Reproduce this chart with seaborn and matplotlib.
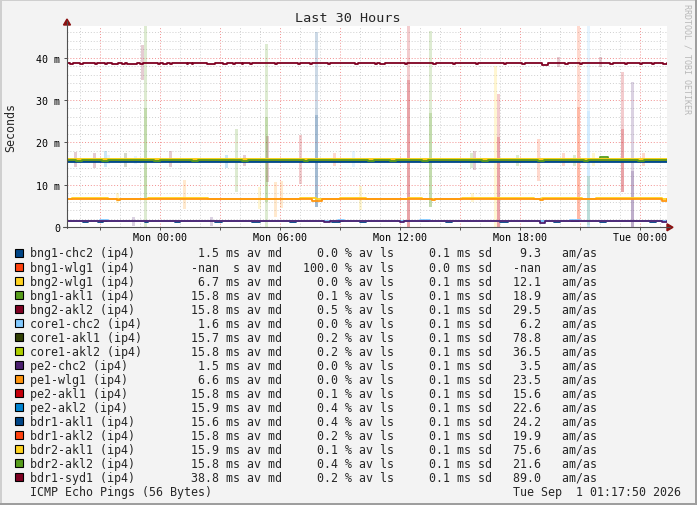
import numpy as np
import matplotlib
matplotlib.use("Agg")
import matplotlib.pyplot as plt
from matplotlib.patches import Rectangle, Polygon
from matplotlib.lines import Line2D
from matplotlib.ticker import MultipleLocator, FuncFormatter
import seaborn as sns

# ── data ───────────────────────────────────────────────────────────────────
HOSTS = ["bng1-chc2", "bng1-wlg1", "bng2-wlg1", "bng1-akl1", "bng2-akl2",
         "core1-chc2", "core1-akl1", "core1-akl2", "pe2-chc2", "pe1-wlg1",
         "pe2-akl1", "pe2-akl2", "bdr1-akl1", "bdr1-akl2", "bdr2-akl1",
         "bdr2-akl2", "bdr1-syd1"]
COLORS = ["#004586", "#ff420e", "#ffd320", "#579d1c", "#7e0021",
          "#83caff", "#314004", "#aecf00", "#4b1f6f", "#ff950e",
          "#c5000b", "#0084d1", "#004586", "#ff420e", "#ffd320",
          "#579d1c", "#7e0021"]
MED_TXT = ["1.5", "-nan", "6.7", "15.8", "15.8", "1.6", "15.7", "15.8", "1.5",
           "6.6", "15.8", "15.9", "15.6", "15.8", "15.9", "15.8", "38.8"]
LOSS_TXT = ["0.0", "100.0", "0.0", "0.1", "0.5", "0.0", "0.2", "0.2", "0.0",
            "0.0", "0.1", "0.4", "0.4", "0.2", "0.1", "0.4", "0.2"]
SD_TXT = ["0.1", "0.0", "0.1", "0.1", "0.1", "0.1", "0.1", "0.1", "0.1",
          "0.1", "0.1", "0.1", "0.1", "0.1", "0.1", "0.1", "0.1"]
AMAS_TXT = ["9.3", "-nan", "12.1", "18.9", "29.5", "6.2", "78.8", "36.5", "3.5",
            "23.5", "15.6", "22.6", "24.2", "19.9", "75.6", "21.6", "89.0"]

# median line level per host (ms); None = no data (100% loss)
LINE_LEVEL = [1.5, None, 6.7, 15.9, 15.75, 1.6, 15.75, 16.0, 1.5,
              6.6, 15.8, 15.6, 15.45, 15.8, 16.05, 15.85, 38.8]

# deviations from the level: (from hour, to hour, ms), hours relative to Mon 00:00
BNG1_CHC2_DEV = [(-3.85, -3.6, 1.25), (-3.1, -2.85, 1.25), (-0.77, -0.62, 1.25),
                 (0.72, 0.98, 1.25), (2.72, 3.08, 1.25), (4.6, 5.0, 1.25),
                 (6.5, 6.8, 1.25), (8.6, 9.0, 1.25), (10.0, 10.3, 1.25),
                 (14.3, 14.6, 1.25), (17.0, 17.4, 1.25), (19.7, 20.0, 1.25),
                 (22.0, 22.3, 1.25), (24.5, 24.8, 1.25)]
BNG2_WLG1_DEV = [(-4.4, -2.6, 6.95), (-0.6, 2.4, 6.95), (7.0, 7.8, 6.95),
                 (9.0, 10.3, 6.95), (12.4, 13.1, 6.95), (15.1, 18.7, 6.95),
                 (19.1, 21.1, 6.95), (21.8, 25.1, 6.95)]
BNG1_AKL1_DEV = [(22.0, 22.4, 16.6)]
BDR2_AKL2_DEV = [(-4.2, -3.9, 15.6), (-2.9, -2.6, 15.6), (-0.3, 0.0, 15.6),
                 (1.6, 1.9, 15.6), (4.1, 4.4, 15.6), (7.2, 7.4, 15.6),
                 (10.4, 10.7, 15.6), (11.5, 11.8, 15.6), (13.1, 13.4, 15.6),
                 (16.1, 16.4, 15.6), (18.9, 19.2, 15.6), (21.2, 21.4, 15.6),
                 (23.9, 24.2, 15.6)]
CORE1_CHC2_DEV = [(-3.0, -2.6, 1.8), (8.9, 9.2, 1.8), (13.0, 13.5, 1.8), (20.5, 21.0, 1.8)]
PE2_CHC2_DEV = [(8.2, 8.5, 1.3), (12.0, 12.2, 1.3), (19.0, 19.25, 1.1), (25.1, 25.33, 1.3)]
PE1_WLG1_DEV = [(-2.17, -2.0, 6.4), (7.6, 8.1, 6.3), (13.6, 13.75, 6.35),
                (19.0, 19.15, 6.4), (25.1, 25.33, 6.3)]
BDR1_SYD1_DEV = [(-4.52, -4.37, 38.55), (-4.02, -3.87, 38.55), (-3.27, -3.17, 38.55),
                 (-2.77, -2.67, 38.55), (-2.42, -2.12, 38.55), (-1.92, -1.77, 38.55),
                 (-1.67, -1.17, 38.55), (-1.02, -0.87, 38.55), (-0.12, -0.02, 38.55),
                 (0.13, 0.33, 38.55), (0.48, 0.58, 38.55), (1.33, 1.38, 38.55),
                 (1.58, 1.63, 38.55), (2.33, 2.73, 38.55), (3.13, 3.33, 38.55),
                 (3.63, 3.73, 38.55), (4.08, 4.13, 38.55), (4.48, 4.58, 38.55),
                 (5.73, 5.85, 38.55), (6.88, 7.0, 38.55), (7.48, 7.6, 38.55),
                 (8.38, 8.5, 38.55), (9.73, 9.9, 38.55), (10.73, 10.85, 38.55),
                 (10.98, 11.25, 38.4), (12.23, 12.35, 38.55), (13.63, 13.8, 38.55),
                 (14.63, 14.75, 38.55), (15.78, 15.9, 38.55), (17.2, 17.3, 38.55),
                 (18.1, 18.25, 38.55), (19.08, 19.4, 38.3), (20.23, 20.4, 38.55),
                 (21.0, 21.1, 38.55), (22.5, 22.65, 38.55), (23.23, 23.35, 38.55),
                 (24.0, 24.1, 38.55), (24.6, 24.7, 38.55), (25.13, 25.33, 38.4)]
LINE_DEV = {"bng1-chc2": BNG1_CHC2_DEV, "bng2-wlg1": BNG2_WLG1_DEV,
            "bng1-akl1": BNG1_AKL1_DEV, "bdr2-akl2": BDR2_AKL2_DEV,
            "core1-chc2": CORE1_CHC2_DEV, "pe2-chc2": PE2_CHC2_DEV,
            "pe1-wlg1": PE1_WLG1_DEV, "bdr1-syd1": BDR1_SYD1_DEV}

# smoke (spread) bars: hour, low ms, high ms, host
SMOKE_T = [-4.27, -3.3, -2.77, -2.62, -1.77, -0.92, -0.77, 0.48, -1.27, 1.22,
           -2.17, -1.37, 2.57, 3.28, 3.8, 4.18, 5.3, 5.33, 5.73, 6.03,
           4.95, 6.98, 7.8, 8.68, 9.63, 9.98, 12.41, 13.48, 16.73, 16.88,
           15.68, 15.53, 17.83, 15.58, 18.88, 19.88, 21.98, 20.9, 21.4, 21.4,
           23.1, 23.58, 24.13, 20.13, 20.68, 21.63]
SMOKE_LO = [14.2, 14.0, 14.1, 15.0, 14.1, 34.6, 0.0, 14.1, 15.0, 4.3,
            5.8, 0.4, 0.4, 14.0, 8.3, 14.5, 0.0, 10.7, 2.4, 4.5,
            4.2, 10.1, 4.8, 14.4, 14.2, 4.0, 0.0, 4.8, 0.0, 0.0,
            13.6, 14.0, 14.5, 6.0, 10.8, 37.7, 37.7, 1.6, 0.0, 0.5,
            8.3, 0.0, 14.4, 14.4, 14.4, 14.5]
SMOKE_HI = [17.7, 17.5, 18.0, 17.0, 17.5, 43.0, 47.5, 18.0, 16.8, 11.1,
            8.0, 2.4, 2.4, 17.0, 23.2, 17.0, 43.2, 21.5, 10.7, 10.8,
            9.6, 21.7, 46.0, 17.6, 18.0, 9.7, 47.5, 46.2, 38.1, 31.4,
            17.9, 17.5, 17.0, 8.0, 20.8, 40.1, 40.1, 47.5, 47.5, 12.0,
            36.6, 34.2, 17.5, 17.5, 17.0, 17.5]
SMOKE_HOST = ["bng2-akl2", "bng2-akl2", "pe2-akl2", "core1-chc2", "core1-akl1",
              "bdr1-syd1", "bng1-akl1", "bng2-akl2", "core1-chc2", "pe1-wlg1",
              "bng2-wlg1", "pe2-chc2", "pe2-chc2", "pe2-akl2", "bng1-akl1",
              "bng2-akl2", "bng1-akl1", "bng2-akl2", "pe1-wlg1", "pe1-wlg1",
              "bng2-wlg1", "pe2-akl1", "bng1-chc2", "bdr1-akl2", "core1-chc2",
              "bng2-wlg1", "pe2-akl1", "bng1-akl1", "bng2-wlg1", "pe2-akl1",
              "bng2-akl2", "bng1-akl1", "bng1-akl1", "bng2-wlg1", "bdr1-akl2",
              "bdr1-syd1", "bdr1-syd1", "bdr1-akl2", "core1-chc2", "bng1-akl1",
              "pe2-akl1", "pe2-chc2", "bdr1-akl2", "bdr1-akl2", "bng1-akl1",
              "bng2-wlg1"]
# denser core of the tall smoke bars: hour, low ms, high ms, host
CORE_T = [-0.77, 5.3, 7.8, 12.41, 13.48, 16.88, 20.9, 21.4, 23.1, 23.58]
CORE_LO = [7.0, 6.0, 4.8, 0.0, 4.8, 0.0, 1.6, 0.0, 8.3, 0.0]
CORE_HI = [28.0, 26.0, 26.5, 34.6, 27.0, 21.2, 28.3, 27.5, 23.2, 13.3]
CORE_HOST = ["bng1-akl1", "bng1-akl1", "bng1-chc2", "pe2-akl1", "bng1-akl1",
             "pe2-akl1", "bdr1-akl2", "core1-chc2", "pe2-akl1", "pe2-chc2"]

XTICK_POS = [0, 6, 12, 18, 24]
XTICK_LABELS = ["Mon 00:00", "Mon 06:00", "Mon 12:00", "Mon 18:00", "Tue 00:00"]

# ── layout ─────────────────────────────────────────────────────────────────
W, H = 697, 506
T0, T1 = -4.67, 25.33
Y_MAX = 47.5
BG = "#f3f3f3"
MONO = "DejaVu Sans Mono"

sns.set_theme(style="white")
plt.rcParams["font.family"] = [MONO]

fig = plt.figure(figsize=(W / 100, H / 100), dpi=100, facecolor=BG)


def fx(px):
    return px / W


def fy(py):
    return 1 - py / H


ax = fig.add_axes([fx(67), fy(228.3), 600 / W, 201.6 / H])
ax.set_facecolor("white")
ax.set_xlim(T0, T1)
ax.set_ylim(0, Y_MAX)
color_of = dict(zip(HOSTS, COLORS))

# smoke first
ax.bar(SMOKE_T, np.array(SMOKE_HI) - np.array(SMOKE_LO), bottom=SMOKE_LO, width=0.15,
       color=[color_of[h] for h in SMOKE_HOST], alpha=0.2, linewidth=0, zorder=2)
ax.bar(CORE_T, np.array(CORE_HI) - np.array(CORE_LO), bottom=CORE_LO, width=0.15,
       color=[color_of[h] for h in CORE_HOST], alpha=0.2, linewidth=0, zorder=2)

# median lines
for name, col, level in zip(HOSTS, COLORS, LINE_LEVEL):
    if level is None:
        continue
    t, v = [T0], [level]
    for a, b, val in LINE_DEV.get(name, []):
        t += [a, b]
        v += [val, level]
    t.append(T1)
    v.append(level)
    sns.lineplot(x=t, y=v, ax=ax, color=col, lw=1.3, drawstyle="steps-post",
                 estimator=None, sort=False, zorder=3)

# grid
ax.xaxis.set_major_locator(MultipleLocator(3))
ax.xaxis.set_minor_locator(MultipleLocator(1))
ax.yaxis.set_major_locator(MultipleLocator(10))
ax.yaxis.set_minor_locator(MultipleLocator(2))
xlab = dict(zip(XTICK_POS, XTICK_LABELS))
ax.xaxis.set_major_formatter(FuncFormatter(lambda v, p: xlab.get(int(round(v)), "")
                                           if abs(v - round(v)) < 1e-6 else ""))
ax.yaxis.set_major_formatter(FuncFormatter(lambda v, p: "0" if v == 0 else f"{int(v)} m"))
ax.grid(which="minor", color="#cfcfcf", lw=0.7, ls=(0, (1, 2)), zorder=0)
ax.grid(which="major", color="#f29090", lw=0.7, ls=(0, (1, 2)), zorder=1)
ax.set_axisbelow(True)
ax.set_xlabel("")
ax.set_ylabel("")
for s in ax.spines.values():
    s.set_visible(False)
ax.tick_params(axis="both", which="major", length=2.2, width=0.7, color="#505050",
               labelsize=7.2, labelcolor="#000000")
ax.tick_params(axis="both", which="minor", length=1.4, width=0.7, color="#505050")
ax.tick_params(axis="x", which="major", pad=1.2)
ax.tick_params(axis="y", which="major", pad=2.9)
ax.tick_params(axis="both", direction="out", bottom=True, left=True)

# axes lines with arrows
axis_col = "#505050"
arrow_col = "#8b1010"
fig.add_artist(Line2D([fx(67), fx(67)], [fy(229), fy(22)], lw=0.8, color=axis_col))
fig.add_artist(Line2D([fx(63), fx(670)], [fy(228.3), fy(228.3)], lw=0.8, color=axis_col))
fig.add_artist(Polygon([[fx(63.5), fy(26)], [fx(70.5), fy(26)], [fx(67), fy(20)]],
                       closed=True, color=arrow_col, transform=fig.transFigure))
fig.add_artist(Polygon([[fx(667), fy(224.8)], [fx(667), fy(231.8)], [fx(673), fy(228.3)]],
                       closed=True, color=arrow_col, transform=fig.transFigure))

# title, labels, watermark
fig.text(fx(347.5), fy(19), "Last 30 Hours", ha="center", va="center", fontsize=9.7)
fig.text(fx(11), fy(127.5), "Seconds", ha="center", va="center", rotation=90, fontsize=8.4)
fig.text(fx(687), fy(4), "RRDTOOL / TOBI OETIKER", ha="center", va="top",
         rotation=270, fontsize=6, color="#b8b8b8")

# legend rows
for i, name in enumerate(HOSTS):
    y = 254 + 14.02 * i
    fig.add_artist(Rectangle((fx(15.3), fy(y + 4)), 8 / W, 8 / H, transform=fig.transFigure,
                             facecolor=COLORS[i], edgecolor="black", lw=0.8))
    unit = " s" if MED_TXT[i] == "-nan" else "ms"
    row = (f"{name + ' (ip4)':<23}{MED_TXT[i]:>4} {unit} av md   {LOSS_TXT[i]:>5} % av ls"
           f"     {SD_TXT[i]} ms sd   {AMAS_TXT[i]:>4}   am/as")
    fig.text(fx(29.7), fy(y), row, ha="left", va="center", fontsize=8.38)

fig.text(fx(29.7), fy(492.3), "ICMP Echo Pings (56 Bytes)", ha="left", va="center", fontsize=8.38)
fig.text(fx(681), fy(492.3), "Tue Sep  1 01:17:50 2026", ha="right", va="center", fontsize=8.38)

# frame shading
fig.add_artist(Rectangle((0, fy(2)), 1, 2 / H, transform=fig.transFigure, color="#cfcfcf", lw=0))
fig.add_artist(Rectangle((0, 0), 2 / W, 1, transform=fig.transFigure, color="#cfcfcf", lw=0))
fig.add_artist(Rectangle((0, 0), 1, 2 / H, transform=fig.transFigure, color="#9e9e9e", lw=0))
fig.add_artist(Rectangle((fx(695), 0), 2 / W, 1, transform=fig.transFigure, color="#9e9e9e", lw=0))

fig.savefig("out.png", dpi=100, facecolor=BG)
